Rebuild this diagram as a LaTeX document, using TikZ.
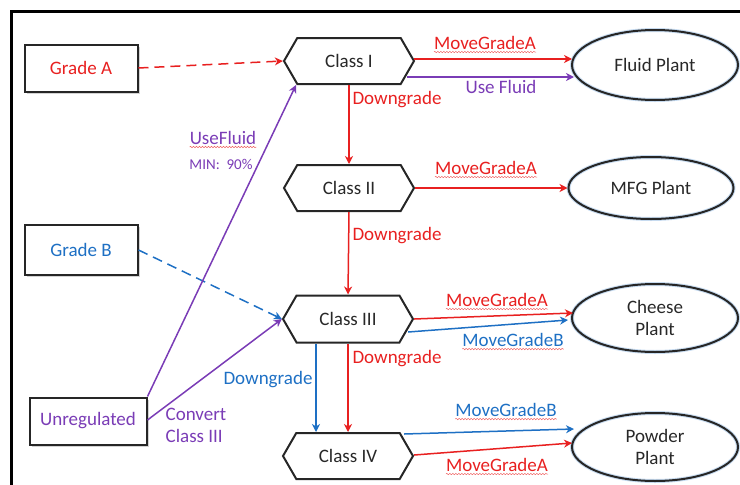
\documentclass[tikz,border=0pt]{standalone}
\usepackage{fontspec}
\setmainfont{Carlito}
\usetikzlibrary{shapes.geometric,shapes.symbols,arrows.meta,shadows,decorations.pathmorphing}
\definecolor{cred}{RGB}{232,32,32}
\definecolor{cblue}{RGB}{30,112,196}
\definecolor{cpurp}{RGB}{122,60,182}
\definecolor{ctext}{RGB}{40,40,40}
\begin{document}
\begin{tikzpicture}[x=1pt,y=-1pt,
  font=\fontsize{19}{22}\selectfont,
  srcbox/.style={draw=black!85, line width=2pt, rectangle, minimum width=113, minimum height=47, fill=white,
    drop shadow={shadow xshift=2pt, shadow yshift=-2pt, opacity=0.35}},
  classbox/.style={draw=black!85, line width=2pt, signal, signal to=west and east, signal pointer angle=120,
    minimum width=130, minimum height=46, text=ctext, fill=white},
  plant/.style={draw=black!85, line width=2pt, ellipse, minimum width=166, minimum height=68, text=ctext,
    align=center, inner sep=0pt, preaction={draw=cblue!25, line width=4pt}},
  arr/.style={line width=1.5pt, -{Stealth[length=8pt,width=8pt,inset=2.5pt]}},
  lbl/.style={inner sep=0pt},
  squig/.style={draw=cred!70, line width=0.5pt, decorate, decoration={snake, amplitude=0.7pt, segment length=3pt}}
]
\useasboundingbox (0,0) rectangle (740,485);
\draw[line width=3pt] (11,485) -- (11,11) -- (740,11);

% source boxes
\node[srcbox, text=cred] (ga) at (81,68) {Grade A};
\node[srcbox, text=cblue, minimum height=50] (gb) at (81,250) {Grade B};
\node[srcbox, text=cpurp, minimum width=117, minimum height=47] (un) at (88,421) {Unregulated};

% classes
\node[classbox] (c1) at (349,61) {Class I};
\node[classbox] (c2) at (349,188) {Class II};
\node[classbox, minimum height=47] (c3) at (348,319) {Class III};
\node[classbox] (c4) at (348,456) {Class IV};

% plants
\node[plant, minimum height=70] (fp) at (655,65) {Fluid Plant};
\node[plant, minimum width=165, minimum height=62] (mfg) at (651,188) {MFG Plant};
\node[plant] (ch) at (655,318) {Cheese\\Plant};
\node[plant] (pw) at (655,447) {Powder\\Plant};

% dashed inputs
\draw[arr, cred, dash pattern=on 10pt off 6pt] (ga.east) -- (c1.west);
\draw[arr, cblue, dash pattern=on 10pt off 6pt] (gb.east) -- (c3.west);

% unregulated
\draw[arr, cpurp] (un.north east) -- ([shift={(-53,0)}]c1.south);
\draw[arr, cpurp] ([shift={(0,-1)}]un.east) -- (c3.west);

% class I
\draw[arr, cred] ([shift={(-1,-2)}]c1.east) -- ([shift={(1,-6)}]fp.west);
\draw[arr, cpurp] ([shift={(-8,16)}]c1.east) -- ([shift={(3,12)}]fp.west);
\draw[arr, cred] (c1.south) -- (c2.north);

% class II
\draw[arr, cred] (c2.east) -- (mfg.west);
\draw[arr, cred] (c2.south) -- (c3.north);

% class III
\draw[arr, cred] (c3.east) -- ([shift={(2,-5)}]ch.west);
\draw[arr, cblue] ([shift={(-6,13)}]c3.east) -- ([shift={(-3,2)}]ch.west);
\draw[arr, cred] (c3.south) -- (c4.north);
\draw[arr, cblue] ([shift={(-32,0)}]c3.south) -- ([shift={(-32,0)}]c4.north);

% class IV
\draw[arr, cblue] ([shift={(-10,-22)}]c4.east) -- ([shift={(3,-18)}]pw.west);
\draw[arr, cred] ([shift={(0,-1)}]c4.east) -- ([shift={(1,-4)}]pw.west);

% labels
\node[lbl, text=cred] (l1) at (485,43) {MoveGradeA};
\node[lbl, text=cpurp] (l2) at (501,87) {Use Fluid};
\node[lbl, text=cred] (l3) at (397,100) {Downgrade};
\node[lbl, text=cred] (l4) at (486,168) {MoveGradeA};
\node[lbl, text=cred] (l5) at (397,236) {Downgrade};
\node[lbl, text=cred] (l6) at (497,300) {MoveGradeA};
\node[lbl, text=cblue] (l7) at (513,340) {MoveGradeB};
\node[lbl, text=cred] (l8) at (397,359) {Downgrade};
\node[lbl, text=cblue] (l9) at (268,380) {Downgrade};
\node[lbl, text=cblue] (l10) at (506,410) {MoveGradeB};
\node[lbl, text=cred] (l11) at (497,465) {MoveGradeA};
\node[lbl, text=cpurp] (l12) at (223,138) {UseFluid};
\node[lbl, text=cpurp, font=\fontsize{15}{17}\selectfont] (l13) at (221,164) {MIN:~~90\%};
\node[lbl, text=cpurp, align=left] (l14) at (196,425) {Convert\\Class III};

% spell-check squiggles
\foreach \n in {l1,l4,l6,l7,l10,l11,l12}
  \draw[squig] ([yshift=-2.5pt]\n.base west) -- ([yshift=-2.5pt]\n.base east);
\end{tikzpicture}
\end{document}
